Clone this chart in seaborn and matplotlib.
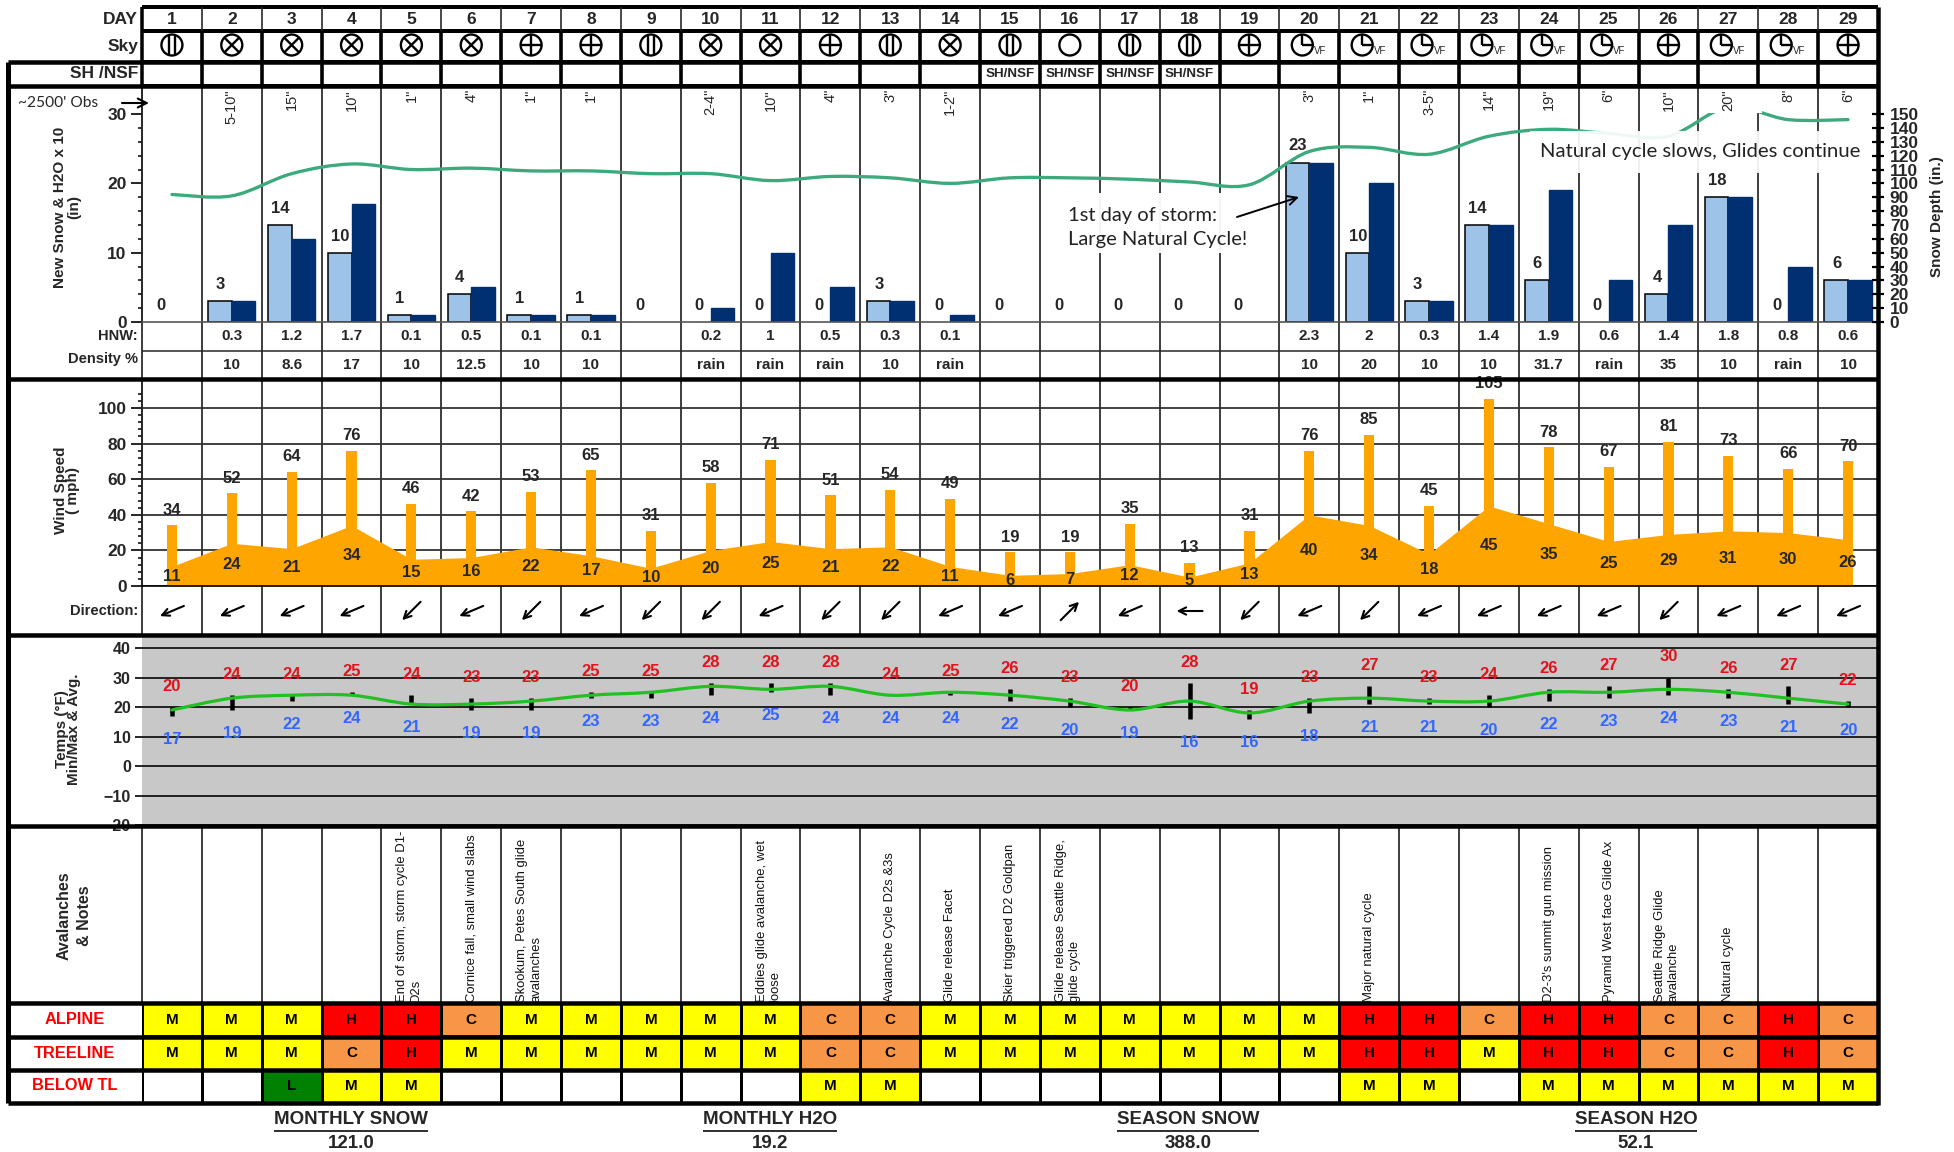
"""
Monthly avalanche / weather summary sheet: snow, wind, temps, notes and danger ratings
"""
import numpy as np
import pandas as pd
import seaborn as sns
import matplotlib
matplotlib.use('Agg')
import matplotlib.pyplot as plt
from matplotlib.colors import ListedColormap
from matplotlib.patches import Ellipse, PathPatch, Rectangle
from matplotlib.path import Path

# Data
days = list(range(1, 30))
sky_cover = list("I" "XXXXX" "++" "I" "XX" "+" "I" "X" "I" "O" "II" "+" "VVVVVV" "+" "VV" "+")
sh_nsf_days = [15, 16, 17, 18]
obs_labels = ['', '5-10"', '15"', '10"', '1"', '4"', '1"', '1"', '', '2-4"', '10"', '4"', '3"', '1-2"',
              '', '', '', '', '', '3"', '1"', '3-5"', '14"', '19"', '6"', '10"', '20"', '8"', '6"']
new_snow = [0, 3, 14, 10, 1, 4, 1, 1, 0, 0, 0, 0, 3, 0, 0, 0, 0, 0, 0, 23, 10, 3, 14, 6, 0, 4, 18, 0, 6]
h2o_x10 = [0, 3, 12, 17, 1, 5, 1, 1, 0, 2, 10, 5, 3, 1, 0, 0, 0, 0, 0, 23, 20, 3, 14, 19, 6, 14, 18, 8, 6]
snow_depth = [92, 91, 107, 114, 110, 111, 109, 109, 107, 107, 102, 105, 104, 100, 104, 104, 103, 101, 99,
              123, 126, 121, 134, 139, 136, 134, 155, 146, 146]
hnw_labels = ['', '0.3', '1.2', '1.7', '0.1', '0.5', '0.1', '0.1', '', '0.2', '1', '0.5', '0.3', '0.1',
              '', '', '', '', '', '2.3', '2', '0.3', '1.4', '1.9', '0.6', '1.4', '1.8', '0.8', '0.6']
density_labels = ['', '10', '8.6', '17', '10', '12.5', '10', '10', '', 'rain', 'rain', 'rain', '10', 'rain',
                  '', '', '', '', '', '10', '20', '10', '10', '31.7', 'rain', '35', '10', 'rain', '10']
wind_gust = [34, 52, 64, 76, 46, 42, 53, 65, 31, 58, 71, 51, 54, 49, 19, 19, 35, 13, 31,
             76, 85, 45, 105, 78, 67, 81, 73, 66, 70]
wind_avg = [11, 24, 21, 34, 15, 16, 22, 17, 10, 20, 25, 21, 22, 11, 6, 7, 12, 5, 13,
            40, 34, 18, 45, 35, 25, 29, 31, 30, 26]
# heading of the direction arrows, degrees counter clockwise from east
wind_heading = [203, 203, 203, 203, 225, 203, 225, 203, 225, 225, 203, 225, 225, 203, 203, 45, 203, 180, 225,
                203, 225, 203, 203, 203, 203, 225, 203, 203, 203]
temp_max = [20, 24, 24, 25, 24, 23, 23, 25, 25, 28, 28, 28, 24, 25, 26, 23, 20, 28, 19,
            23, 27, 23, 24, 26, 27, 30, 26, 27, 22]
temp_min = [17, 19, 22, 24, 21, 19, 19, 23, 23, 24, 25, 24, 24, 24, 22, 20, 19, 16, 16,
            18, 21, 21, 20, 22, 23, 24, 23, 21, 20]
temp_avg = [19, 23, 24, 24, 21, 21, 22, 24, 25, 27, 26, 27, 24, 25, 24, 22, 19, 22, 18,
            22, 23, 22, 22, 25, 25, 26, 25, 23, 21]
notes = {5: "End of storm, storm cycle D1-\nD2s", 6: "Cornice fall, small wind slabs",
         7: "Skookum, Petes South glide\navalanches", 11: "Eddies glide avalanche, wet\nloose",
         13: "Avalanche Cycle D2s &3s", 14: "Glide release Facet", 15: "Skier triggered D2 Goldpan",
         16: "Glide release Seattle Ridge,\nglide cycle", 21: "Major natural cycle",
         24: "D2-3's summit gun mission", 25: "Pyramid West face Glide Ax",
         26: "Seattle Ridge Glide\navalanche", 27: "Natural cycle"}
danger_names = ['ALPINE', 'TREELINE', 'BELOW TL']
danger_alpine = list("MMMHHCMMMMMCCMMMMMMMHHCHHCCHC")
danger_treeline = list("MMMCHMMMMMMCCMMMMMMMHHMHHCCHC")
danger_below = list("  LMM      MM       MM MMMMMM")
totals_titles = ['MONTHLY SNOW', 'MONTHLY H2O', 'SEASON SNOW', 'SEASON H2O']
totals_values = ['121.0', '19.2', '388.0', '52.1']

W, H = 1954, 1152
COL_LEFT, COL_RIGHT = 142, 1878
CW = (COL_RIGHT - COL_LEFT) / 29
PT = 0.72  # one pixel in points at dpi 100

sns.set_theme(style='white')
plt.rcParams['font.family'] = ['Liberation Sans', 'DejaVu Sans']
BLACK = '#000000'
ORANGE = '#FFA500'
NAVY = '#002F72'

fig = plt.figure(figsize=(W / 100, H / 100), dpi=100, facecolor='white')


def panel(top, bottom, zorder=2):
    ax = fig.add_axes([COL_LEFT / W, 1 - bottom / H, (COL_RIGHT - COL_LEFT) / W, (bottom - top) / H],
                      zorder=zorder)
    ax.set_facecolor('none')
    return ax


def sheet_axes(zorder):
    # whole figure: x counted in days, y in pixels from the top
    ax = fig.add_axes([0, 0, 1, 1], zorder=zorder)
    ax.set_xlim((0 - COL_LEFT) / CW + 0.5, (W - COL_LEFT) / CW + 0.5)
    ax.set_ylim(H, 0)
    ax.axis('off')
    ax.set_facecolor('none')
    return ax


def px(x):
    return (x - COL_LEFT) / CW + 0.5


def smooth_line(ax, x, y, color, lw, zorder=4):
    # same kind of curve as the spreadsheet "smoothed line"
    pts = np.column_stack([x, y]).astype(float)
    verts = [pts[0]]
    codes = [Path.MOVETO]
    for i in range(len(pts) - 1):
        before = pts[max(i - 1, 0)]
        after = pts[min(i + 2, len(pts) - 1)]
        verts += [pts[i] + (pts[i + 1] - before) / 6, pts[i + 1] - (after - pts[i]) / 6, pts[i + 1]]
        codes += [Path.CURVE4] * 3
    ax.add_patch(PathPatch(Path(verts, codes), fill=False, edgecolor=color, lw=lw, zorder=zorder,
                           capstyle='round'))


def style_left_axis(ax, major, minor):
    for side in ['top', 'right', 'bottom']:
        ax.spines[side].set_visible(False)
    ax.spines['left'].set_linewidth(1.5 * PT)
    ax.set_yticks(major)
    ax.set_yticks(minor, minor=True)
    ax.tick_params(axis='y', which='major', left=True, length=8, width=1.2, color=BLACK, pad=3,
                   direction='out', labelsize=12.5)
    ax.tick_params(axis='y', which='minor', left=True, length=3, width=1.1, color=BLACK, direction='out')
    for t in ax.get_yticklabels():
        t.set_fontweight('bold')
    ax.set_xlim(0.5, 29.5)
    ax.set_xticks([])
    ax.set_xlabel('')
    ax.set_ylabel('')


back = sheet_axes(0)
front = sheet_axes(6)

# column lines behind the charts
col_edges = [d + 0.5 for d in days[:-1]]
back.vlines(col_edges, 86, 635, color='#222222', lw=1.7 * PT)
back.vlines(col_edges, 826, 1103, color='#222222', lw=1.7 * PT)
back.vlines(0.5, 86, 635, color='#222222', lw=1.7 * PT)
back.vlines(0.5, 826, 1003, color='#222222', lw=1.7 * PT)
back.hlines(351, 0.5, 29.5, color='#222222', lw=1.5 * PT)

# new snow and water
ax_snow = panel(86, 322)
df_snow = pd.DataFrame({'day': days * 2, 'inches': new_snow + h2o_x10,
                        'series': ['snow'] * 29 + ['h2o'] * 29})
sns.barplot(data=df_snow, x='day', y='inches', hue='series', hue_order=['snow', 'h2o'], native_scale=True,
            palette={'snow': '#9DC3E9', 'h2o': NAVY}, width=0.79, gap=0, saturation=1, legend=False,
            ax=ax_snow)
for bar in ax_snow.containers[0]:
    bar.set_edgecolor(BLACK)
    bar.set_linewidth(1.1)
    if bar.get_height() == 0:
        bar.set_visible(False)
for bar in ax_snow.containers[1]:
    bar.set_edgecolor(NAVY)
    bar.set_linewidth(1.0)
    if bar.get_height() == 0:
        bar.set_visible(False)
ax_snow.set_ylim(0, 34.05)
style_left_axis(ax_snow, [0, 10, 20, 30], list(range(2, 31, 2)))
ax_snow.axhline(0, color='#555555', lw=1.2, zorder=3, clip_on=False)
for d, v in zip(days, new_snow):
    ax_snow.text(d - 0.19, v + 2.4, str(v), ha='center', va='center', fontweight='bold', fontsize=12)

ax_depth = ax_snow.twinx()
ax_depth.set_zorder(3)
ax_depth.set_facecolor('none')
ax_depth.set_ylim(0, 170.25)
smooth_line(ax_depth, days, snow_depth, '#3DAA7D', 3 * PT * 1.1)
for side in ['top', 'left', 'bottom', 'right']:
    ax_depth.spines[side].set_visible(False)
ax_depth.grid(False)
ax_depth.set_yticks(list(range(0, 151, 10)))
ax_depth.tick_params(axis='y', right=True, length=9, width=1.6, color=BLACK, direction='inout', pad=4,
                     labelsize=12.5)
for t in ax_depth.get_yticklabels():
    t.set_fontweight('bold')

# wind
ax_wind = panel(379, 586)
sns.barplot(x=days, y=wind_gust, native_scale=True, color=ORANGE, saturation=1, width=0.17, linewidth=0,
            ax=ax_wind)
ax_wind.fill_between(days, wind_avg, color=ORANGE, lw=0, zorder=2)
ax_wind.set_ylim(0, 116.3)
style_left_axis(ax_wind, list(range(0, 101, 20)), list(range(0, 112, 4)))
ax_wind.grid(axis='y', color='#333333', lw=1.3)
ax_wind.set_axisbelow(True)
ax_wind.axhline(0, color=BLACK, lw=1.2, zorder=3, clip_on=False)
for d, g, a in zip(days, wind_gust, wind_avg):
    ax_wind.text(d, g + 8.5, str(g), ha='center', va='center', fontweight='bold', fontsize=12)
    ax_wind.text(d, max(a / 2, 3), str(a), ha='center', va='center', fontweight='bold', fontsize=12, zorder=5)

# temperatures
ax_temp = panel(635, 826)
ax_temp.set_facecolor('#C8C8C8')
ax_temp.set_ylim(-20.3, 44.4)
style_left_axis(ax_temp, list(range(-20, 41, 10)), [])
ax_temp.tick_params(axis='y', which='major', length=5, labelsize=11.5)
ax_temp.spines['left'].set_visible(False)
ax_temp.grid(axis='y', color='#222222', lw=1.4)
ax_temp.set_axisbelow(True)
ax_temp.vlines(days, temp_min, temp_max, color=BLACK, lw=4.5 * PT, zorder=3)
smooth_line(ax_temp, days, temp_avg, '#22C022', 3.2 * PT)
for d, hi, lo in zip(days, temp_max, temp_min):
    ax_temp.text(d, hi + 7, str(hi), color='#E0141C', ha='center', va='center', fontweight='bold', fontsize=12)
    ax_temp.text(d, lo - 8, str(lo), color='#3366FF', ha='center', va='center', fontweight='bold', fontsize=12)

# danger ratings
ax_danger = panel(1003, 1103)
danger_rows = [danger_alpine, danger_treeline, danger_below]
danger_code = {'L': 0, 'M': 1, 'C': 2, 'H': 3, ' ': np.nan}
codes = np.array([[danger_code[c] for c in row] for row in danger_rows])
letters = np.array([[c.strip() for c in row] for row in danger_rows], dtype=object)
sns.heatmap(codes, ax=ax_danger, cmap=ListedColormap(['#008000', '#FFFF00', '#F79646', '#FF0000']),
            vmin=0, vmax=3, cbar=False, annot=letters, fmt='', linewidths=1, linecolor=BLACK,
            xticklabels=False, yticklabels=False,
            annot_kws={'color': BLACK, 'fontweight': 'bold', 'fontsize': 11})
ax_danger.set_facecolor('none')
for name, y in zip(danger_names, [1020, 1053, 1086]):
    front.text(px(75), y, name, color='#FF0000', ha='center', va='center', fontweight='bold', fontsize=11.8)

# frame of the sheet
front.hlines(7, 0.5, 29.5, color=BLACK, lw=4 * PT)
front.hlines([31, 62, 86], 0.5, 29.5, color=BLACK, lw=4 * PT)
front.hlines([62, 86, 379, 635, 826, 1003, 1037, 1070, 1103], px(8), 29.5, color=BLACK, lw=4.5 * PT)
front.vlines(px(8), 62, 1103, color=BLACK, lw=5 * PT)
front.vlines(29.5, 7, 1105, color=BLACK, lw=4.5 * PT)
front.vlines(0.5, 7, 86, color=BLACK, lw=3.5 * PT)
front.vlines(col_edges, 7, 31, color='#222222', lw=1.6 * PT)
front.vlines(col_edges, 31, 86, color=BLACK, lw=3.6 * PT)

# row titles
for label, y in [('DAY', 19), ('Sky', 46), ('SH /NSF', 74), ('HNW:', 336), ('Density %', 359),
                 ('Direction:', 611)]:
    size = 12.5 if label in ('DAY', 'Sky', 'SH /NSF') else 10.5
    front.text(px(138), y, label, ha='right', va='center', fontweight='bold', fontsize=size)
front.text(px(67), 207, 'New Snow & H2O x 10\n(in)', rotation=90, ha='center', va='center', fontweight='bold',
           fontsize=11, linespacing=1.0)
front.text(px(67), 490, 'Wind Speed\n( mph)', rotation=90, ha='center', va='center', fontweight='bold',
           fontsize=11, linespacing=0.9)
front.text(px(68), 729, 'Temps (\N{DEGREE SIGN}F)\nMin/Max & Avg.', rotation=90, ha='center', va='center',
           fontweight='bold', fontsize=11, linespacing=0.9)
front.text(px(74), 916, 'Avalanches\n& Notes', rotation=90, ha='center', va='center', fontweight='bold',
           fontsize=11.5, linespacing=1.45)
front.text(px(1937), 217, 'Snow Depth (in.)', rotation=90, ha='center', va='center', fontweight='bold',
           fontsize=11)
front.text(px(18), 103, "~2500' Obs", ha='left', va='center', family=['Lato'], fontsize=11.2)
front.annotate('', xy=(px(149), 103), xytext=(px(122), 103),
               arrowprops=dict(arrowstyle='->', color=BLACK, lw=1.5, mutation_scale=16, shrinkA=0, shrinkB=0))

# day, sky and table rows
for i, d in enumerate(days):
    front.text(d, 19, str(d), ha='center', va='center', fontweight='bold', fontsize=12.5)
    front.text(d, 336, hnw_labels[i], ha='center', va='center', fontweight='bold', fontsize=11)
    front.text(d, 365, density_labels[i], ha='center', va='center', fontweight='bold', fontsize=11)
    front.text(d, 89, obs_labels[i], rotation=90, ha='center', va='top', fontsize=10.5, zorder=8)

    kind = sky_cover[i]
    cx = d - 7 / CW if kind == 'V' else d
    r = 10.5
    front.add_patch(Ellipse((cx, 45), 2 * r / CW, 2 * r, fill=False, edgecolor=BLACK, lw=1.7))
    seg = []
    if kind == 'X':
        k = r * 0.71
        seg = [((cx - k / CW, 45 - k), (cx + k / CW, 45 + k)), ((cx - k / CW, 45 + k), (cx + k / CW, 45 - k))]
    elif kind == '+':
        seg = [((cx - r / CW, 45), (cx + r / CW, 45)), ((cx, 45 - r), (cx, 45 + r))]
    elif kind == 'I':
        seg = [((cx - 3 / CW, 35.5), (cx - 3 / CW, 54.5)), ((cx + 3 / CW, 35.5), (cx + 3 / CW, 54.5))]
    elif kind == 'V':
        seg = [((cx, 45 - r), (cx, 45)), ((cx, 45), (cx + r / CW, 45))]
        front.text(cx + 18 / CW, 51, 'VF', ha='center', va='center', fontsize=7)
    for (x0, y0), (x1, y1) in seg:
        front.plot([x0, x1], [y0, y1], color=BLACK, lw=1.7, solid_capstyle='butt')

    # direction arrows
    heading = np.radians(wind_heading[i])
    half = 13
    dx, dy = half * np.cos(heading) / CW, -half * np.sin(heading)
    front.annotate('', xy=(d + dx, 611 + dy), xytext=(d - dx, 611 - dy),
                   arrowprops=dict(arrowstyle='->', color=BLACK, lw=1.5, mutation_scale=13, shrinkA=0, shrinkB=0))

for d in sh_nsf_days:
    front.text(d, 74, 'SH/NSF', ha='center', va='center', fontweight='bold', fontsize=9.6)

# notes column, written from the bottom of the row
for d, text in notes.items():
    n_lines = text.count('\n') + 1
    offset = 0 if n_lines == 1 else -2 / CW
    front.text(d + offset, 1002, text, rotation=90, ha='center', va='bottom', multialignment='left',
               fontsize=9.4, linespacing=1.2, color='#111111')

# typed comments, with the white boxes they sit on
front.add_patch(Rectangle((px(1060), 193), 190 / CW, 60, facecolor='white', edgecolor='none', alpha=0.95, zorder=1))
front.add_patch(Rectangle((px(1530), 131), 340 / CW, 42, facecolor='white', edgecolor='none', alpha=0.92, zorder=1))
front.add_patch(Rectangle((px(1709), 88), 53 / CW, 25, facecolor='white', edgecolor='none', zorder=1))
front.text(px(1068), 215, '1st day of storm:', ha='left', va='center', family=['Lato'], fontsize=14.5, zorder=3,
           color='#222222')
front.text(px(1068), 240, 'Large Natural Cycle!', ha='left', va='center', family=['Lato'], fontsize=14.5, zorder=3,
           color='#222222')
front.text(px(1540), 152, 'Natural cycle slows, Glides continue', ha='left', va='center', family=['Lato'],
           fontsize=14.6, zorder=3, color='#222222')
front.annotate('', xy=(px(1299), 197), xytext=(px(1237), 217),
               arrowprops=dict(arrowstyle='->', color=BLACK, lw=1.4, mutation_scale=16, shrinkA=0, shrinkB=0))

# totals under the sheet
renderer = fig.canvas.get_renderer()
for title, value, x in zip(totals_titles, totals_values, [351, 770, 1188, 1636]):
    t = front.text(px(x), 1120, title, ha='center', va='center', fontweight='bold', fontsize=13.5)
    half = t.get_window_extent(renderer).width / 2
    front.hlines(1130.5, px(x - half), px(x + half), color=BLACK, lw=1.6 * PT)
    front.text(px(x), 1144, value, ha='center', va='center', fontweight='bold', fontsize=13.5)

plt.savefig('out.png', dpi=100)
plt.close()
